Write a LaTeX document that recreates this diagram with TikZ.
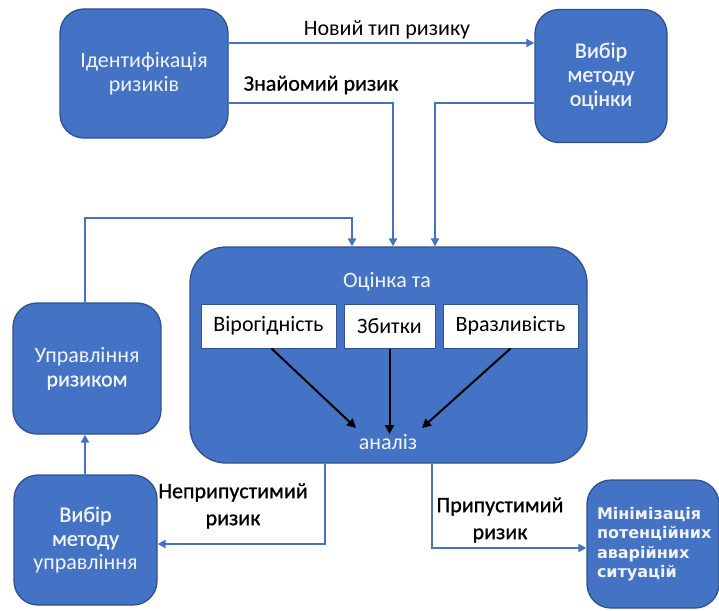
\documentclass[tikz,border=0pt]{standalone}
\usepackage{fontspec}
\setmainfont{Carlito}
\newfontfamily\semib{Carlito}[FakeBold=0.8]
\newfontfamily\verd{DejaVu Sans}
\usetikzlibrary{arrows.meta,calc}
\definecolor{boxblue}{HTML}{4472C4}
\definecolor{boxedge}{HTML}{2F528F}
\definecolor{txtw}{HTML}{F2F4FA}
\begin{document}
\begin{tikzpicture}[x=1pt,y=-1pt,
  box/.style={draw=boxedge,line width=1.3pt,fill=boxblue,rounded corners=24pt,
    text=txtw,align=center,font=\fontsize{22}{24}\selectfont,inner sep=0pt},
  wbox/.style={draw=boxedge,line width=1pt,fill=white,text=black,
    font=\fontsize{22}{24}\selectfont,inner sep=0pt,minimum height=44pt},
  conn/.style={draw=boxblue,line width=2pt,-{Triangle[length=8pt,width=8pt]}},
  blk/.style={draw=black,line width=2pt,-{Triangle[length=9pt,width=9pt]}},
  lbl/.style={text=black,align=center,font=\fontsize{22}{27}\selectfont,inner sep=0pt}]
\useasboundingbox (0,0) rectangle (719,610);
\fill[white] (0,0) rectangle (719,610);
% boxes
\node[box,minimum width=168pt,minimum height=129pt] (A) at (144,73.5) {Ідентифікація\\ризиків};
\node[box,minimum width=132pt,minimum height=133pt] (B) at (601,76) {\semib Вибір\\\semib методу\\\semib оцінки};
\node[box,minimum width=397pt,minimum height=216pt,rounded corners=36pt] (C) at (388.5,355) {};
\node[box,minimum width=148pt,minimum height=131pt] (D) at (87,368.5) {Управління\\\semib ризиком};
\node[box,minimum width=143pt,minimum height=130pt] (E) at (85.5,540) {\semib Вибір\\\semib методу\\управління};
\node[box,minimum width=132pt,minimum height=128pt,align=left] (F) at (653,544) {\hspace*{8pt}\begin{minipage}{120pt}\verd\bfseries\fontsize{16}{19.5}\selectfont Мінімізація\\потенційних\\аварійних\\ситуацій\end{minipage}};
% inner of C
\node[text=txtw,font=\fontsize{22}{24}\selectfont,inner sep=0pt] (ot) at (387,282) {Оцінка та};
\node[wbox,minimum width=135pt] (v1) at (268.5,326) {Вірогідність};
\node[wbox,minimum width=91pt] (v2) at (389.5,326) {Збитки};
\node[wbox,minimum width=135pt] (v3) at (510.5,326) {Вразливість};
\node[text=txtw,font=\fontsize{22}{24}\selectfont,inner sep=0pt] (an) at (388,442) {аналіз};
\coordinate (e1) at (356,428);
\coordinate (e3) at (422,428);
\draw[blk] ($(v1.south)+(3,0)$) -- (e1);
\draw[blk] (v2.south) -- (v2.south |- an.north);
\draw[blk] (v3.south) -- (e3);
% connectors
\draw[conn] (A.east |- 0,43) -- (B.west |- 0,43);
\node[lbl] (l1) at (387,30) {Новий тип ризику};
\draw[conn] (A.east |- 0,103) -- (393,103) -- (393,0 |- C.north);
\node[lbl,font=\fontsize{22}{27}\semib] (l2) at (321,85) {Знайомий ризик};
\draw[conn] (B.west |- 0,103) -- (435,103) -- (435,0 |- C.north);
\draw[conn] (D.north -| 85,0) -- (85,218) -- (352,218) -- (352,0 |- C.north);
\draw[conn] (E.north -| 85,0) -- (85,0 |- D.south);
\draw[conn] (325,0 |- C.south) -- (325,544) -- (E.east |- 0,544);
\node[lbl,font=\fontsize{22}{27}\semib] (l3) at (233,506) {Неприпустимий\\ризик};
\draw[conn] (432,0 |- C.south) -- (432,548) -- (F.west |- 0,548);
\node[lbl,font=\fontsize{22}{27}\semib] (l4) at (500,520) {Припустимий\\ризик};
\end{tikzpicture}
\end{document}
